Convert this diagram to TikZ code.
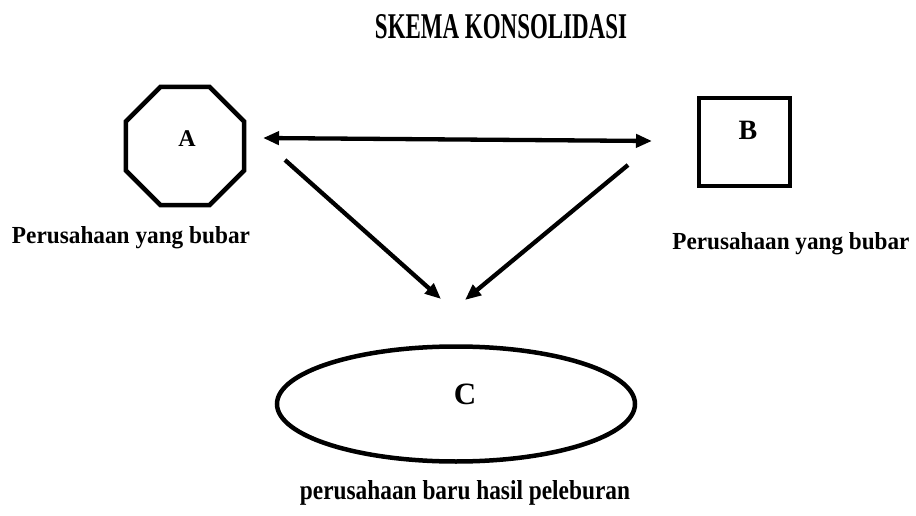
\documentclass[tikz,border=0pt]{standalone}
\usepackage{fontspec}
\setmainfont{Liberation Serif}
\usetikzlibrary{shapes.geometric,arrows.meta}
\newcommand\fitlbl[3]{\resizebox{#1}{#2}{\bfseries #3}}
\begin{document}
\begin{tikzpicture}[x=1pt,y=-1pt,
  shp/.style={draw=black,line width=4.5pt,inner sep=0pt},
  arr/.style={line width=4.3pt,-{Triangle[length=16pt,width=13pt]}},
  darr/.style={line width=4.3pt,{Triangle[length=16pt,width=13pt]}-{Triangle[length=16pt,width=13pt]}},
  lbl/.style={inner sep=0pt,font=\bfseries}]
\useasboundingbox (0,0) rectangle (916,516);
\fill[white] (0,0) rectangle (916,516);
% title
\node[lbl,anchor=base] (T) at (501,39) {\fitlbl{252pt}{24pt}{SKEMA KONSOLIDASI}};
% shapes
\node[shp,regular polygon,regular polygon sides=8,minimum size=128pt] (A) at (185,146) {};
\node[shp,rectangle,minimum width=91pt,minimum height=88pt] (B) at (744.5,142) {};
\node[shp,ellipse,minimum width=358pt,minimum height=115pt] (C) at (456,404) {};
% letters
\node[lbl,font=\bfseries\fontsize{24}{24}\selectfont] (AL) at (187,139) {A};
\node[lbl,font=\bfseries\fontsize{28}{28}\selectfont] (BL) at (748,130) {B};
\node[lbl,font=\bfseries\fontsize{31}{31}\selectfont] (CL) at (465,394) {C};
% captions
\node[lbl,anchor=base] (PA) at (131,243) {\fitlbl{238pt}{17pt}{Perusahaan yang bubar}};
\node[lbl,anchor=base] (PB) at (791,249) {\fitlbl{237pt}{17pt}{Perusahaan yang bubar}};
\node[lbl,anchor=base] (PC) at (465,499) {\fitlbl{330pt}{19pt}{perusahaan baru hasil peleburan}};
% arrow ends
\coordinate (a1) at (263,138);
\coordinate (b1) at (652,141);
\coordinate (a2) at (285,160);
\coordinate (c1) at (441,299);
\coordinate (b2) at (628,165);
\coordinate (c2) at (465,300);
\draw[darr] (a1) -- (b1);
\draw[arr] (a2) -- (c1);
\draw[arr] (b2) -- (c2);
\end{tikzpicture}
\end{document}
